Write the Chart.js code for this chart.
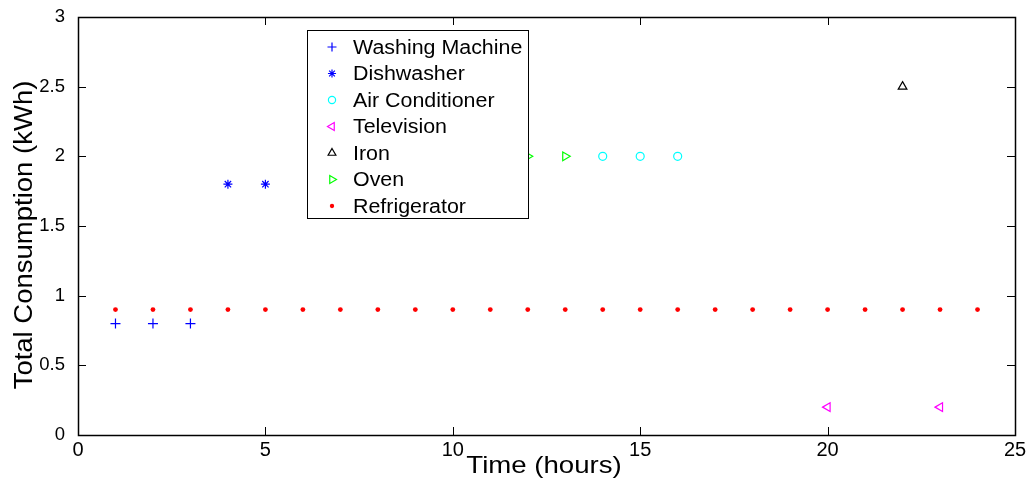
<!DOCTYPE html>
<html><head><meta charset="utf-8">
<script src="https://cdn.jsdelivr.net/npm/chart.js@4/dist/chart.umd.min.js"></script>
<style>html,body{margin:0;padding:0;background:#fff}#wrap{width:1033px;height:494px}</style>
</head><body><div id="wrap"><canvas id="c" width="1033" height="494"></canvas></div>
<script>
const seriesNames = ["Washing Machine","Dishwasher","Air Conditioner","Television","Iron","Oven","Refrigerator"];
const washingX = [1,2,3], washingY = [0.8,0.8,0.8];
const dishX = [4,5], dishY = [1.8,1.8];
const acX = [14,15,16], acY = [2,2,2];
const tvX = [20,23], tvY = [0.2,0.2];
const ironX = [22], ironY = [2.5];
const ovenX = [12,13], ovenY = [2,2];
const fridgeX = [1,2,3,4,5,6,7,8,9,10,11,12,13,14,15,16,17,18,19,20,21,22,23,24];
const fridgeY = [0.9,0.9,0.9,0.9,0.9,0.9,0.9,0.9,0.9,0.9,0.9,0.9,0.9,0.9,0.9,0.9,0.9,0.9,0.9,0.9,0.9,0.9,0.9,0.9];
const xTicks = [0,5,10,15,20,25];
const yTicks = [0,0.5,1,1.5,2,2.5,3];
const xTitle = 'Time (hours)';
const yTitle = 'Total Consumption (kWh)';

const pts = (xs,ys)=>xs.map((x,i)=>({x:x,y:ys[i]}));
const styles = [
 {c:'#0000ff',ps:'cross',r:5,rot:0,fill:false},
 {c:'#0000ff',ps:'star',r:4.5,rot:0,fill:false},
 {c:'#00ffff',ps:'circle',r:4,rot:0,fill:false},
 {c:'#ff00ff',ps:'triangle',r:5,rot:-90,fill:false},
 {c:'#000000',ps:'triangle',r:5,rot:0,fill:false},
 {c:'#00ff00',ps:'triangle',r:5,rot:90,fill:false},
 {c:'#ff0000',ps:'circle',r:2.4,rot:0,fill:true}
];
const dataArr = [pts(washingX,washingY),pts(dishX,dishY),pts(acX,acY),pts(tvX,tvY),pts(ironX,ironY),pts(ovenX,ovenY),pts(fridgeX,fridgeY)];
const datasets = dataArr.map((d,i)=>({
  label: seriesNames[i], data:d, showLine:false,
  pointStyle: styles[i].ps, pointRadius: styles[i].r, pointRotation: styles[i].rot,
  borderColor: styles[i].c, backgroundColor: styles[i].fill? styles[i].c : 'rgba(0,0,0,0)',
  pointBorderWidth: styles[i].fill?0:1.2, pointHoverRadius: styles[i].r
}));

const F = '"Liberation Sans", Arial, sans-serif';
function stretchedText(ctx, text, x, y, sx, rot){
  ctx.save(); ctx.translate(x,y); if(rot) ctx.rotate(rot); ctx.scale(sx,1);
  ctx.fillText(text,0,0); ctx.restore();
}
const framePlugin = {
  id:'frame',
  afterDatasetsDraw(chart){
    const ctx = chart.ctx, a = chart.chartArea;
    const xs = chart.scales.x, ys = chart.scales.y;
    ctx.save();
    ctx.strokeStyle = '#000'; ctx.lineWidth = 1;
    ctx.beginPath();
    xTicks.forEach(v=>{const p=Math.round(xs.getPixelForValue(v))+0.5;
      ctx.moveTo(p,a.bottom); ctx.lineTo(p,a.bottom-8); ctx.moveTo(p,a.top); ctx.lineTo(p,a.top+8);});
    yTicks.forEach(v=>{const p=Math.round(ys.getPixelForValue(v))+0.5;
      ctx.moveTo(a.left,p); ctx.lineTo(a.left+8,p); ctx.moveTo(a.right,p); ctx.lineTo(a.right-8,p);});
    ctx.stroke();
    ctx.lineWidth = 1.5;
    ctx.strokeRect(Math.round(a.left)+0.5, Math.round(a.top)+0.5, Math.round(a.right-a.left), Math.round(a.bottom-a.top));
    // axis titles
    ctx.fillStyle='#000'; ctx.textAlign='center'; ctx.textBaseline='alphabetic';
    ctx.font = '24px '+F;
    stretchedText(ctx, xTitle, 544, 473, 1.15, 0);
    ctx.font = '25px '+F;
    stretchedText(ctx, yTitle, 32, 235, 1.1, -Math.PI/2);
    // legend
    const lx=307.5, ly=30.5, lw=221, lh=188;
    ctx.fillStyle='#fff'; ctx.fillRect(lx,ly,lw,lh);
    ctx.lineWidth=1; ctx.strokeStyle='#000'; ctx.strokeRect(lx,ly,lw,lh);
    ctx.font = '20px '+F; ctx.textBaseline='middle'; ctx.textAlign='left';
    seriesNames.forEach((n,i)=>{
      const y = 47 + i*26.5;
      const s = styles[i];
      ctx.strokeStyle = s.c; ctx.fillStyle = s.fill? s.c : 'rgba(0,0,0,0)';
      ctx.lineWidth = s.fill?0:1.2;
      Chart.helpers.drawPoint(ctx,{pointStyle:s.ps,radius:s.r*0.9,rotation:s.rot,borderWidth:s.fill?0:1.2},332,y);
      ctx.fillStyle='#000';
      stretchedText(ctx, n, 353, y+1, 1.07, 0);
    });
    ctx.restore();
  }
};

new Chart(document.getElementById('c'),{
  type:'scatter',
  data:{datasets:datasets},
  options:{
    responsive:false, animation:false, devicePixelRatio:1,
    layout:{padding:{top:17,right:18,left:0,bottom:0}},
    plugins:{legend:{display:false},tooltip:{enabled:false}},
    scales:{
      x:{type:'linear',min:0,max:25,
        afterBuildTicks(s){s.ticks=xTicks.map(v=>({value:v}));},
        afterFit(s){s.height=59;},
        grid:{display:false},border:{display:false},
        ticks:{color:'#000',font:{family:F,size:20},padding:-5,maxRotation:0,autoSkip:false,callback:v=>String(v)},
        title:{display:false}
      },
      y:{type:'linear',min:0,max:3,
        afterBuildTicks(s){s.ticks=yTicks.map(v=>({value:v}));},
        afterFit(s){s.width=78;},
        grid:{display:false},border:{display:false},
        ticks:{color:'#000',font:{family:F,size:18.5},padding:5,autoSkip:false,callback:v=>String(v)},
        title:{display:false}
      }
    }
  },
  plugins:[framePlugin]
});
</script></body></html>
